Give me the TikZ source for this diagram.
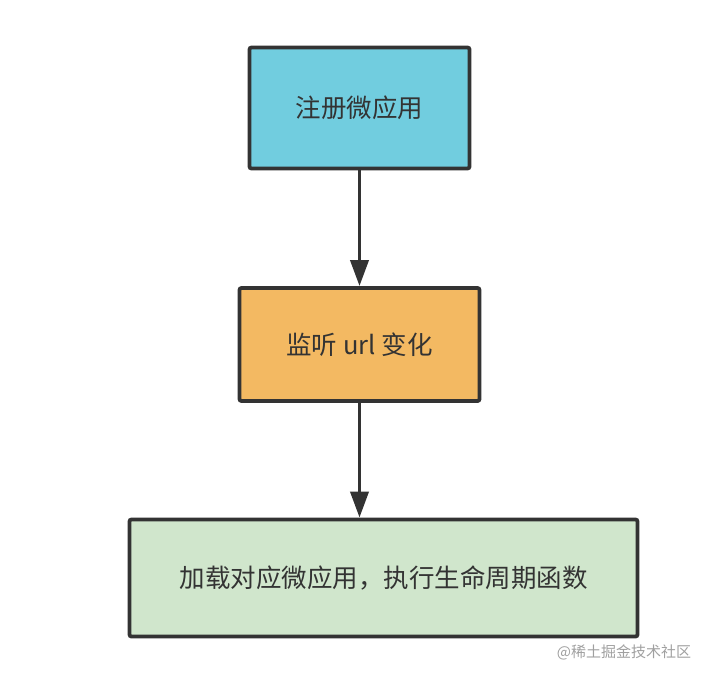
\documentclass[tikz,border=0pt]{standalone}
\usepackage{fontspec}
\setmainfont{Noto Sans CJK SC}
\usetikzlibrary{arrows.meta}
\definecolor{bluefill}{HTML}{71CDDF}
\definecolor{orangefill}{HTML}{F3B962}
\definecolor{greenfill}{HTML}{D0E6CC}
\definecolor{edge}{HTML}{333333}
\definecolor{wm}{HTML}{A0A0A0}
\tikzset{
  box/.style={draw=edge, line width=3.8pt, rounded corners=2pt, inner sep=0pt, font=\fontsize{25.5}{30}\selectfont, text=edge},
  conn/.style={draw=edge, line width=3.8pt, -{Triangle[length=26pt,width=18pt]}},
}
\begin{document}
\begin{tikzpicture}[x=1pt,y=-1pt]
\useasboundingbox (0,0) rectangle (710,680);
\node[box, fill=bluefill, minimum width=220pt, minimum height=121pt] (a) at (359.5,108) {注册微应用};
\node[box, fill=orangefill, minimum width=240pt, minimum height=113pt] (b) at (359.5,344.5) {监听 url 变化};
\node[box, fill=greenfill, minimum width=508pt, minimum height=117pt] (c) at (383.5,578) {加载对应微应用，执行生命周期函数};
\draw[conn] (a.south) -- (b.north);
\draw[conn] (b.south) -- (b.south |- c.north);
\node[text=wm, font=\fontsize{15}{18}\selectfont, inner sep=0pt] (w) at (624,652) {@稀土掘金技术社区};
\end{tikzpicture}
\end{document}
